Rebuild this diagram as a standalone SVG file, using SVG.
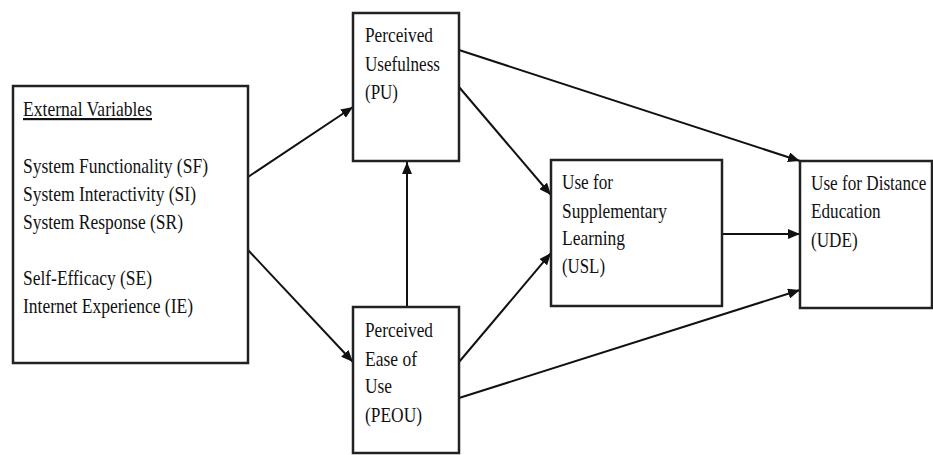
<svg xmlns="http://www.w3.org/2000/svg" width="933" height="455" viewBox="0 0 933 455">
<style>
.box{fill:#fff;stroke:#222;stroke-width:2.5}
.t{font-family:"Liberation Serif","Times New Roman",serif;font-size:22px;fill:#111}
.c{stroke:#111;stroke-width:2;fill:none;marker-end:url(#ah)}
</style>
<defs>
<marker id="ah" viewBox="0 0 12 10" refX="12" refY="5" markerWidth="12" markerHeight="10" markerUnits="userSpaceOnUse" orient="auto">
<path d="M0,0 L12,5 L0,10 Z" fill="#111"/>
</marker>
</defs>
<rect width="933" height="455" fill="#fff"/>
<g id="connectors">
<line class="c" x1="248" y1="177" x2="353" y2="107"/>
<line class="c" x1="248" y1="250" x2="353" y2="362"/>
<line class="c" x1="407" y1="307" x2="407" y2="162"/>
<line class="c" x1="459" y1="87" x2="551" y2="195"/>
<line class="c" x1="459" y1="362" x2="551" y2="253"/>
<line class="c" x1="459" y1="50" x2="800" y2="161"/>
<line class="c" x1="722" y1="234" x2="800" y2="234"/>
<line class="c" x1="459" y1="398" x2="800" y2="290"/>
</g>
<g id="external">
<rect class="box" x="13" y="86" width="235" height="277"/>
<text class="t" x="23" y="116" textLength="129" lengthAdjust="spacingAndGlyphs" text-decoration="underline">External Variables</text>
<text class="t" x="23" y="173" textLength="185" lengthAdjust="spacingAndGlyphs">System Functionality (SF)</text>
<text class="t" x="23" y="201" textLength="173" lengthAdjust="spacingAndGlyphs">System Interactivity (SI)</text>
<text class="t" x="23" y="229" textLength="160" lengthAdjust="spacingAndGlyphs">System Response (SR)</text>
<text class="t" x="23" y="285" textLength="129" lengthAdjust="spacingAndGlyphs">Self-Efficacy (SE)</text>
<text class="t" x="23" y="313" textLength="170" lengthAdjust="spacingAndGlyphs">Internet Experience (IE)</text>
</g>
<g id="pu">
<rect class="box" x="353" y="13" width="106" height="148"/>
<text class="t" x="365" y="42" textLength="68" lengthAdjust="spacingAndGlyphs">Perceived</text>
<text class="t" x="365" y="71" textLength="75" lengthAdjust="spacingAndGlyphs">Usefulness</text>
<text class="t" x="365" y="99" textLength="33" lengthAdjust="spacingAndGlyphs">(PU)</text>
</g>
<g id="peou">
<rect class="box" x="353" y="307" width="106" height="146"/>
<text class="t" x="365" y="337" textLength="68" lengthAdjust="spacingAndGlyphs">Perceived</text>
<text class="t" x="365" y="366" textLength="52" lengthAdjust="spacingAndGlyphs">Ease of</text>
<text class="t" x="365" y="393" textLength="27" lengthAdjust="spacingAndGlyphs">Use</text>
<text class="t" x="365" y="422" textLength="57" lengthAdjust="spacingAndGlyphs">(PEOU)</text>
</g>
<g id="usl">
<rect class="box" x="551" y="160" width="171" height="146"/>
<text class="t" x="562" y="189" textLength="51" lengthAdjust="spacingAndGlyphs">Use for</text>
<text class="t" x="562" y="218" textLength="105" lengthAdjust="spacingAndGlyphs">Supplementary</text>
<text class="t" x="562" y="245" textLength="63" lengthAdjust="spacingAndGlyphs">Learning</text>
<text class="t" x="562" y="273" textLength="43" lengthAdjust="spacingAndGlyphs">(USL)</text>
</g>
<g id="ude">
<rect class="box" x="800" y="161" width="132" height="147"/>
<g transform="translate(811,0) scale(0.78,1)">
<text class="t" x="0" y="190">Use for Distance</text>
<text class="t" x="0" y="218">Education</text>
<text class="t" x="0" y="247">(UDE)</text>
</g>
</g>
</svg>
